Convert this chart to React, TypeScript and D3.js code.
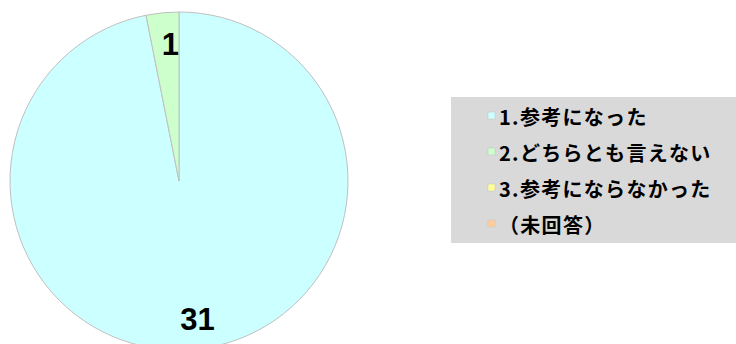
import React from "react";
import * as d3 from "d3";

const categories = ["1.参考になった", "2.どちらとも言えない", "3.参考にならなかった", "（未回答）"];
const counts = [31, 1, 0, 0];
const colors = ["#ccffff", "#ccffcc", "#ffff99", "#ffcc99"];

const W = 736;
const H = 344;

export default function App() {
  const cx = 179;
  const cy = 181;
  const r = 169;

  const pie = d3.pie<number>().sort(null).value((d) => d);
  const arcs = pie(counts);
  const arcGen = d3.arc<d3.PieArcDatum<number>>().innerRadius(0).outerRadius(r);
  const labelArc = d3.arc<d3.PieArcDatum<number>>().innerRadius(r * 0.82).outerRadius(r * 0.82);

  const legendX = 451;
  const legendY = 97;
  const rowY = d3.scaleLinear().domain([0, 3]).range([116, 224]);

  return (
    <svg width={W} height={H} style={{ position: "absolute", left: 0, top: 0 }}>
      <rect width={W} height={H} fill="#ffffff" />
      <g transform={`translate(${cx},${cy})`}>
        {arcs.map((a, i) =>
          a.value > 0 ? (
            <path key={i} d={arcGen(a) || ""} fill={colors[i]} stroke="#c0c0c0" strokeWidth={1} />
          ) : null
        )}
        {arcs.map((a, i) => {
          if (a.value <= 0) return null;
          const [x, y] = labelArc.centroid(a);
          return (
            <text
              key={"l" + i}
              x={x + 5}
              y={y + 1}
              textAnchor="middle"
              dominantBaseline="central"
              fontFamily="Liberation Sans, Arial, sans-serif"
              fontWeight="bold"
              fontSize={31}
              fill="#000"
            >
              {a.value}
            </text>
          );
        })}
      </g>
      <rect x={legendX} y={legendY} width={W - legendX} height={146} fill="#d9d9d9" />
      {categories.map((c, i) => (
        <g key={c} transform={`translate(488,${rowY(i)})`}>
          <rect x={0} y={-4} width={7} height={7} fill={colors[i]} stroke="#c8c8c8" strokeWidth={0.6} />
          <text
            x={11}
            y={0}
            dominantBaseline="central"
            fontFamily="Noto Sans CJK JP, sans-serif"
            fontWeight="bold"
            fontSize={20}
            letterSpacing={1.3}
            fill="#000"
          >
            {c}
          </text>
        </g>
      ))}
    </svg>
  );
}
